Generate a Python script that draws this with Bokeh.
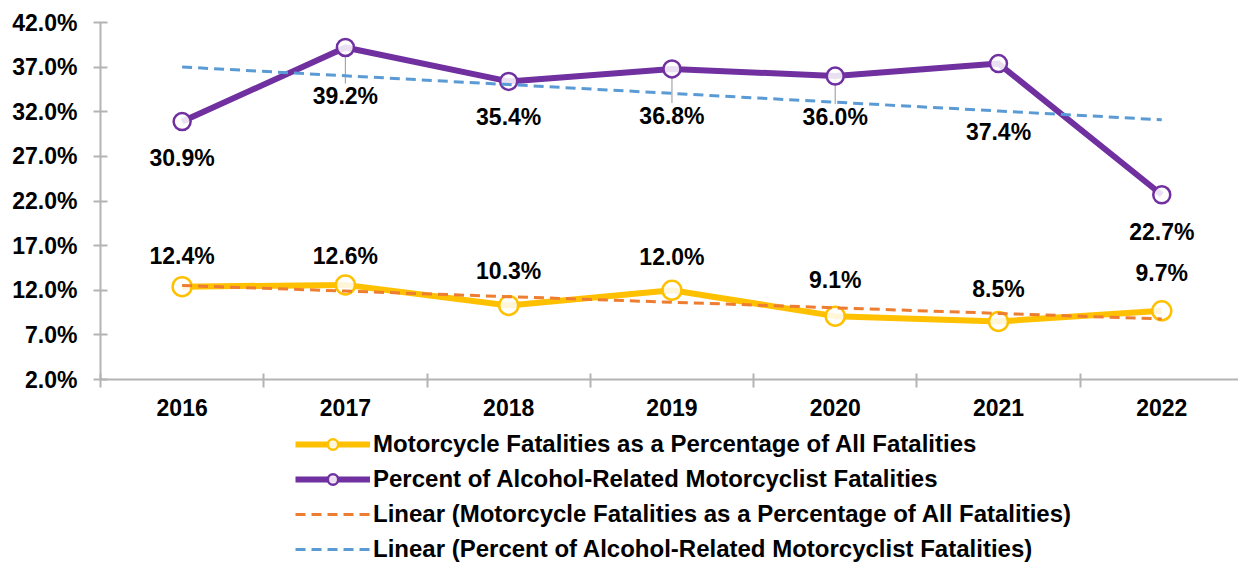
import numpy as np
from bokeh.plotting import figure
from bokeh.layouts import column
from bokeh.models import (Range1d, FixedTicker, PrintfTickFormatter, Legend, LegendItem,
                          ColumnDataSource)
from bokeh.embed import file_html
from bokeh.resources import INLINE
from bokeh.core.properties import value

# ---- data ----
years = ["2016", "2017", "2018", "2019", "2020", "2021", "2022"]
moto_pct = [12.4, 12.6, 10.3, 12.0, 9.1, 8.5, 9.7]
alcohol_pct = [30.9, 39.2, 35.4, 36.8, 36.0, 37.4, 22.7]
y_tick_values = [2.0, 7.0, 12.0, 17.0, 22.0, 27.0, 32.0, 37.0, 42.0]

moto_name = "Motorcycle Fatalities as a Percentage of All Fatalities"
alc_name = "Percent of Alcohol-Related Motorcyclist Fatalities"

# ---- label layout (pixel offsets) ----
moto_label_dy = [-31, -29, -34, -33, -36, -32, -38]
alc_label_dy = [36, 49, 36, 47, 41, 68, 37]
alc_leader = [False, True, False, True, True, False, False]

xs = np.arange(len(years))
m_fit = np.polyfit(xs, moto_pct, 1)
a_fit = np.polyfit(xs, alcohol_pct, 1)
moto_trend = np.polyval(m_fit, xs)
alc_trend = np.polyval(a_fit, xs)

FONT = "Liberation Sans"
YELLOW = "#FFC000"
PURPLE = "#7030A0"
ORANGE = "#ED7D31"
BLUE = "#5B9BD5"
AXIS = "#B4B4B4"

W = 1238
TOP, FRAME_H, BOTTOM = 22, 357, 51
ymin, ymax = 2.0, 42.0
p = figure(width=W, height=TOP + FRAME_H + BOTTOM, output_backend="svg",
           toolbar_location=None,
           x_range=Range1d(-0.5, 6.47), y_range=Range1d(ymin, ymax),
           min_border_left=100, min_border_right=0, min_border_top=TOP,
           min_border_bottom=BOTTOM)
p.grid.visible = False
p.outline_line_color = None
p.background_fill_color = "white"
p.border_fill_color = "white"

# axes
xa = p.xaxis[0]
xa.ticker = FixedTicker(ticks=list(xs), minor_ticks=[i - 0.5 for i in range(len(years) + 1)])
xa.major_label_overrides = {int(i): y for i, y in zip(xs, years)}
xa.major_tick_line_color = None
xa.minor_tick_line_color = AXIS
xa.minor_tick_line_width = 2
xa.minor_tick_in = 6
xa.minor_tick_out = 8
xa.axis_line_color = AXIS
xa.axis_line_width = 2
xa.major_label_text_font = FONT
xa.major_label_text_font_style = "bold"
xa.major_label_text_font_size = "23px"
xa.major_label_text_color = "black"
xa.major_label_standoff = 11

ya = p.yaxis[0]
ya.ticker = FixedTicker(ticks=y_tick_values)
ya.formatter = PrintfTickFormatter(format="%.1f%%")
ya.minor_tick_line_color = None
ya.major_tick_line_color = AXIS
ya.major_tick_line_width = 2
ya.major_tick_in = 7
ya.major_tick_out = 7
ya.axis_line_color = AXIS
ya.axis_line_width = 2
ya.major_label_text_font = FONT
ya.major_label_text_font_style = "bold"
ya.major_label_text_font_size = "23px"
ya.major_label_text_color = "black"
ya.major_label_standoff = 16

# leader lines for some alcohol labels
ppu = FRAME_H / (ymax - ymin)
lx, ly0, ly1 = [], [], []
for i, flag in enumerate(alc_leader):
    if flag:
        lx.append(int(xs[i]))
        ly0.append(alcohol_pct[i])
        ly1.append(alcohol_pct[i] - (alc_label_dy[i] - 13) / ppu)
p.segment(x0=lx, y0=ly0, x1=lx, y1=ly1, line_color="#A6A6A6", line_width=1.2)

# series styles
yellow_line = dict(line_color=YELLOW, line_width=6, line_join="round")
yellow_mark = dict(marker="circle", size=19, line_color=YELLOW, line_width=2.5,
                   fill_color="white", fill_alpha=0.85)
purple_line = dict(line_color=PURPLE, line_width=6, line_join="round")
purple_mark = dict(marker="circle", size=17, line_color=PURPLE, line_width=2.5,
                   fill_color="white", fill_alpha=0.85)
orange_trend = dict(line_color=ORANGE, line_width=3, line_dash="10 6")
blue_trend = dict(line_color=BLUE, line_width=3, line_dash="10 6")

p.line(xs, moto_pct, **yellow_line)
p.scatter(xs, moto_pct, **yellow_mark)
p.line(xs, alcohol_pct, **purple_line)
p.scatter(xs, alcohol_pct, **purple_mark)
p.line(xs, moto_trend, **orange_trend)
p.line(xs, alc_trend, **blue_trend)

# data labels
p.text(xs, moto_pct, text=[f"{v:.1f}%" for v in moto_pct], y_offset=moto_label_dy,
       text_align="center", text_baseline="middle", text_font=value(FONT),
       text_font_style="bold", text_font_size="23px", text_color="black")
p.text(xs, alcohol_pct, text=[f"{v:.1f}%" for v in alcohol_pct], y_offset=alc_label_dy,
       text_align="center", text_baseline="middle", text_font=value(FONT),
       text_font_style="bold", text_font_size="23px", text_color="black")

# ---- legend panel (separate figure below the chart) ----
LH = 133
lf = figure(width=W, height=LH, output_backend="svg", toolbar_location=None,
            x_range=Range1d(0, W), y_range=Range1d(0, LH),
            x_axis_type=None, y_axis_type=None,
            min_border=0, min_border_left=0, min_border_right=0,
            min_border_top=0, min_border_bottom=0)
lf.grid.visible = False
lf.outline_line_color = None


def offscreen():
    # a single point outside the visible range, so only the legend glyph shows
    return ColumnDataSource(dict(x=[-1000.0], y=[-1000.0]))


r1a = lf.line(x="x", y="y", source=offscreen(), **yellow_line)
r1b = lf.scatter(x="x", y="y", source=offscreen(), **yellow_mark)
r2a = lf.line(x="x", y="y", source=offscreen(), **purple_line)
r2b = lf.scatter(x="x", y="y", source=offscreen(), **purple_mark)
r3 = lf.line(x="x", y="y", source=offscreen(), **orange_trend)
r4 = lf.line(x="x", y="y", source=offscreen(), **blue_trend)

legend = Legend(items=[
    LegendItem(label=moto_name, renderers=[r1a, r1b]),
    LegendItem(label=alc_name, renderers=[r2a, r2b]),
    LegendItem(label="Linear (" + moto_name + ")", renderers=[r3]),
    LegendItem(label="Linear (" + alc_name + ")", renderers=[r4]),
], location=(195, 0), orientation="vertical", glyph_width=75, glyph_height=26,
    label_height=26, spacing=7, padding=0, margin=0, border_line_color=None,
    background_fill_alpha=0, label_text_font=FONT, label_text_font_style="bold",
    label_text_font_size="24px", label_text_color="black", label_standoff=3)
lf.add_layout(legend, "center")

layout = column(p, lf, spacing=0)
open("out.html", "w").write(file_html(layout, INLINE))
